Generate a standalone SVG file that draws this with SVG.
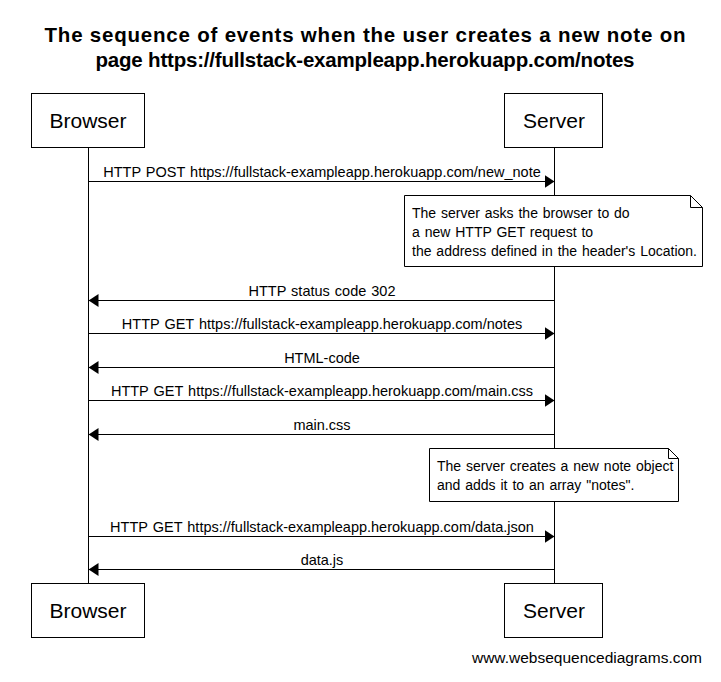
<svg xmlns="http://www.w3.org/2000/svg" width="721" height="682" viewBox="0 0 721 682">
<defs>
<marker id="ah" viewBox="0 0 10 13" refX="10" refY="6.5" markerWidth="10" markerHeight="13" markerUnits="userSpaceOnUse" orient="auto">
<path d="M0,0 L10,6.5 L0,13 Z" fill="#000"/>
</marker>
<style>
text{font-family:"Liberation Sans",Arial,sans-serif;fill:#000}
.title{font-size:20.5px;font-weight:bold;text-anchor:middle}
.actor rect{fill:#fff;stroke:#000;stroke-width:1}
.actor text{font-size:21px;text-anchor:middle}
.life{stroke:#000;stroke-width:1}
.msg line{stroke:#000;stroke-width:1;marker-end:url(#ah)}
.msg text{font-size:14.5px;text-anchor:middle;word-spacing:1px}
.note path{fill:#fff;stroke:#000;stroke-width:1}
.note text{font-size:14px;word-spacing:1px}
.wm{font-size:15.5px;text-anchor:end}
</style>
</defs>
<rect width="721" height="682" fill="#fff"/>
<text class="title" x="365" y="42" textLength="641" lengthAdjust="spacing">The sequence of events when the user creates a new note on</text>
<text class="title" x="365" y="67" textLength="539" lengthAdjust="spacing">page https://fullstack-exampleapp.herokuapp.com/notes</text>
<g id="lifelines">
<line class="life" x1="88.5" y1="148" x2="88.5" y2="583"/>
<line class="life" x1="554.5" y1="148" x2="554.5" y2="583"/>
</g>
<g id="browser" class="actor">
<rect x="31.5" y="93.5" width="113" height="54"/>
<text x="88" y="128">Browser</text>
</g>
<g id="server" class="actor">
<rect x="504.5" y="93.5" width="98" height="54"/>
<text x="554" y="128">Server</text>
</g>
<g id="browser-bottom" class="actor">
<rect x="31.5" y="583.5" width="113" height="54"/>
<text x="88" y="618">Browser</text>
</g>
<g id="server-bottom" class="actor">
<rect x="504.5" y="583.5" width="98" height="54"/>
<text x="554" y="618">Server</text>
</g>
<g id="note1" class="note">
<path d="M404.5,195.5 H690.5 L702.5,207.5 V266.5 H404.5 Z M690.5,195.5 V207.5 H702.5"/>
<text x="412" y="218">The server asks the browser to do</text>
<text x="412" y="237">a new HTTP GET request to</text>
<text x="412" y="256">the address defined in the header's Location.</text>
</g>
<g id="note2" class="note">
<path d="M429.5,448.5 H668.5 L678.5,458.5 V501.5 H429.5 Z M668.5,448.5 V458.5 H678.5"/>
<text x="437" y="471">The server creates a new note object</text>
<text x="437" y="490">and adds it to an array "notes".</text>
</g>
<g id="connectors" class="msg">
<line x1="88.5" y1="181.5" x2="554.5" y2="181.5"/>
<text x="322" y="177">HTTP POST https://fullstack-exampleapp.herokuapp.com/new_note</text>
<line x1="554.5" y1="300.5" x2="88.5" y2="300.5"/>
<text x="322" y="296">HTTP status code 302</text>
<line x1="88.5" y1="333.5" x2="554.5" y2="333.5"/>
<text x="322" y="329">HTTP GET https://fullstack-exampleapp.herokuapp.com/notes</text>
<line x1="554.5" y1="367.5" x2="88.5" y2="367.5"/>
<text x="322" y="363">HTML-code</text>
<line x1="88.5" y1="400.5" x2="554.5" y2="400.5"/>
<text x="322" y="396">HTTP GET https://fullstack-exampleapp.herokuapp.com/main.css</text>
<line x1="554.5" y1="434.5" x2="88.5" y2="434.5"/>
<text x="322" y="430">main.css</text>
<line x1="88.5" y1="536.5" x2="554.5" y2="536.5"/>
<text x="322" y="532">HTTP GET https://fullstack-exampleapp.herokuapp.com/data.json</text>
<line x1="554.5" y1="569.5" x2="88.5" y2="569.5"/>
<text x="322" y="565">data.js</text>
</g>
<text class="wm" x="702" y="663">www.websequencediagrams.com</text>
</svg>
